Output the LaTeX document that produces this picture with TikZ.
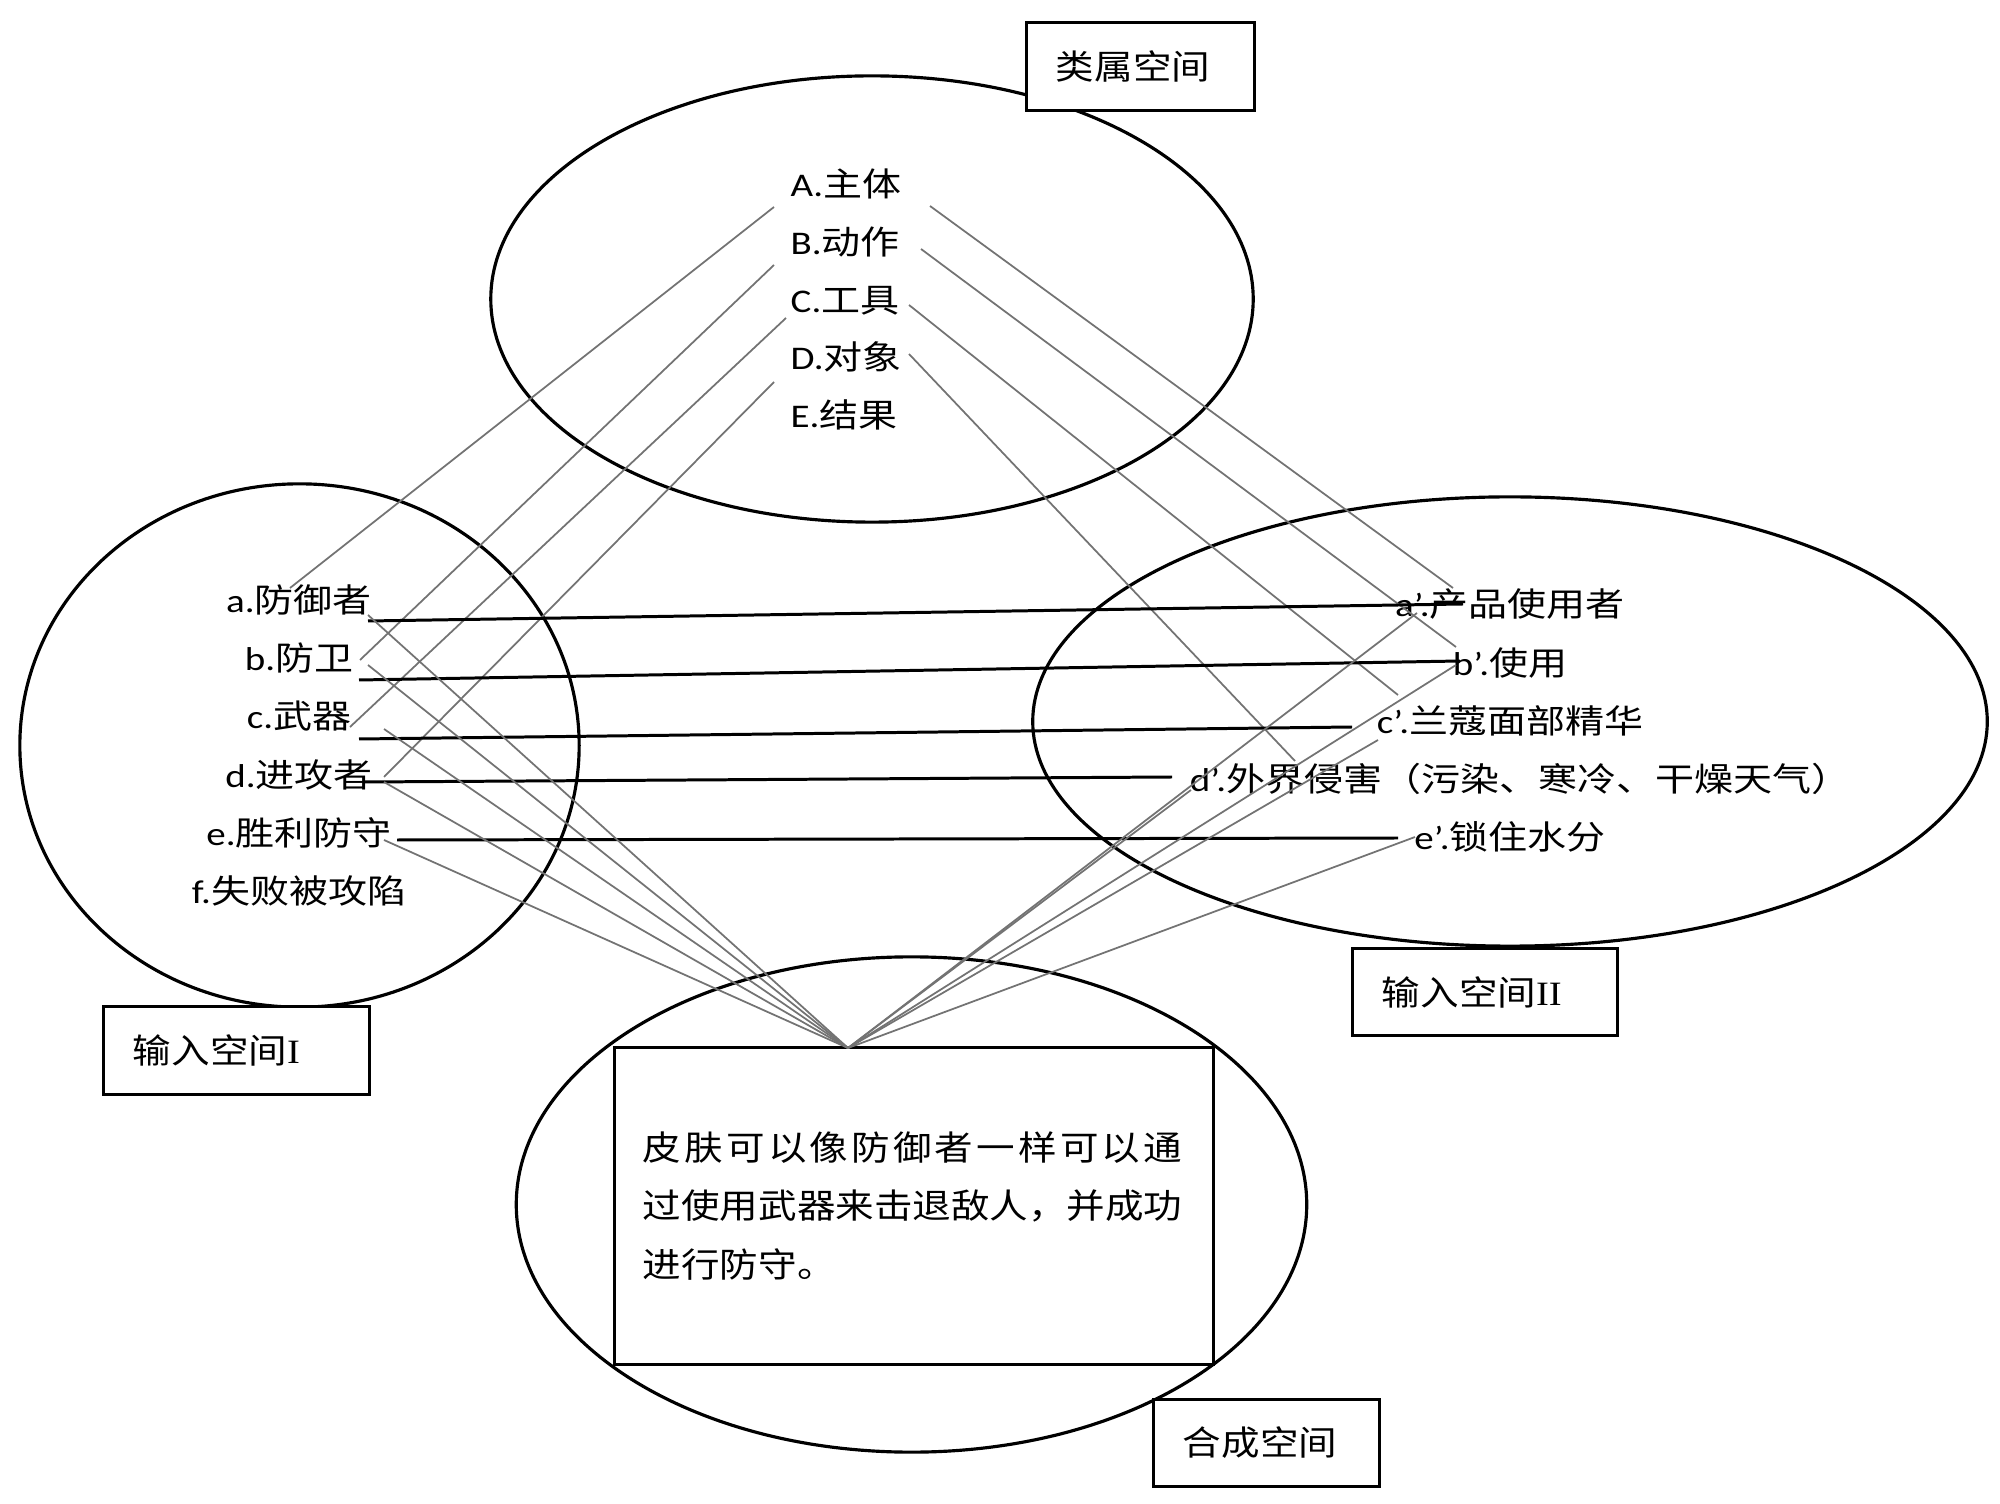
\documentclass[tikz,border=0pt]{standalone}
\usepackage{fontspec}
\setmainfont[FakeStretch=1.18]{Carlito}
\newfontfamily\zh[FakeStretch=1.13]{Noto Sans CJK SC}
\newfontfamily\zhL[FakeStretch=1.18]{Noto Sans CJK SC}
\newfontfamily\tnr[FakeStretch=1.13]{Liberation Serif}
\usetikzlibrary{shapes.geometric}
\newcommand\lab[2]{#1{\zhL #2}}
\begin{document}
\begin{tikzpicture}[x=0.01cm,y=-0.01cm,
  ell/.style={draw, line width=0.9pt, ellipse, inner sep=0pt},
  lbl/.style={inner sep=0pt, font=\fontsize{9.4}{11}\selectfont},
  spacebox/.style={draw, line width=0.85pt, fill=white, minimum height=0.87cm,
    inner xsep=0.29cm, inner ysep=0pt, align=left, font=\zh\fontsize{9.7}{11}\selectfont},
  grayline/.style={black!55, line width=0.5pt},
  blackline/.style={black, line width=0.85pt}]
\useasboundingbox (0,0) rectangle (2000,1504);
% spaces
\node[ell, minimum width=7.62cm, minimum height=4.46cm] (gen) at (872,299) {};
\node[ell, minimum width=5.59cm, minimum height=5.23cm] (in1) at (299.5,745.5) {};
\node[ell, minimum width=9.54cm, minimum height=4.49cm] (in2) at (1510,721.5) {};
\node[ell, minimum width=7.90cm, minimum height=4.95cm] (bl) at (911.5,1204.5) {};
% blend box
\node[draw, line width=0.85pt, fill=white, minimum width=5.98cm, minimum height=3.16cm,
  text width=5.42cm, inner xsep=0.28cm, inner ysep=0pt, align=left,
  font=\zh\fontsize{9.7}{16.67}\selectfont] (blendbox) at (914,1206)
  {\makebox[5.39cm][s]{皮\hfill 肤\hfill 可\hfill 以\hfill 像\hfill 防\hfill 御\hfill 者\hfill 一\hfill 样\hfill 可\hfill 以\hfill 通}\\过使用武器来击退敌人，并成功\\进行防守。};
% space name boxes
\node[spacebox, minimum width=2.27cm, text width=1.69cm] (genlbl) at (1140.5,66.5) {类属空间};
\node[spacebox, minimum width=2.65cm, text width=2.07cm] (in1lbl) at (236.5,1050.5) {输入空间{\tnr I}};
\node[spacebox, minimum width=2.64cm, text width=2.06cm] (in2lbl) at (1485,992) {输入空间{\tnr II}};
\node[spacebox, minimum width=2.25cm, text width=1.67cm] (bllbl) at (1266.5,1443) {合成空间};
% generic labels
\node[lbl, anchor=base west] (A) at (790,197) {\lab{A.}{主体}};
\node[lbl, anchor=base west] (B) at (790,255) {\lab{B.}{动作}};
\node[lbl, anchor=base west] (C) at (790,313) {\lab{C.}{工具}};
\node[lbl, anchor=base west] (D) at (790,370) {\lab{D.}{对象}};
\node[lbl, anchor=base west] (E) at (790,428) {\lab{E.}{结果}};
% input I labels
\node[lbl, anchor=base] (a) at (299,613) {\lab{a.}{防御者}};
\node[lbl, anchor=base] (b) at (299,671) {\lab{b.}{防卫}};
\node[lbl, anchor=base] (c) at (299,729) {\lab{c.}{武器}};
\node[lbl, anchor=base] (d) at (299,788) {\lab{d.}{进攻者}};
\node[lbl, anchor=base] (e) at (299,846) {\lab{e.}{胜利防守}};
\node[lbl, anchor=base] (f) at (299,904) {\lab{f.}{失败被攻陷}};
% input II labels
\node[lbl, anchor=base] (a2) at (1510,617) {\lab{a’.}{产品使用者}};
\node[lbl, anchor=base] (b2) at (1510,676) {\lab{b’.}{使用}};
\node[lbl, anchor=base] (c2) at (1510,734) {\lab{c’.}{兰蔻面部精华}};
\node[lbl, anchor=base] (d2) at (1520,792) {\lab{d’.}{外界侵害（污染、寒冷、干燥天气）}};
\node[lbl, anchor=base] (e2) at (1510,850) {\lab{e’.}{锁住水分}};
% connector ends
\coordinate (gAl) at (774,207); \coordinate (gBl) at (774,265);
\coordinate (gCl) at (786,318); \coordinate (gDl) at (774,382);
\coordinate (gAr) at (930,206); \coordinate (gBr) at (921,249);
\coordinate (gCr) at (909,305); \coordinate (gDr) at (909,354);
\coordinate (aU) at (290,588); \coordinate (bU) at (360,660);
\coordinate (cU) at (350,727); \coordinate (dU) at (384,777);
\coordinate (a2U) at (1453,588); \coordinate (b2U) at (1456,647);
\coordinate (c2U) at (1398,695); \coordinate (d2U) at (1295,761);
\coordinate (aL) at (368,621); \coordinate (bL) at (359,680);
\coordinate (cL) at (359,739); \coordinate (dL) at (364,782);
\coordinate (eL) at (397,840);
\coordinate (a2L) at (1463,604); \coordinate (b2L) at (1460,661);
\coordinate (c2L) at (1352,727); \coordinate (d2L) at (1172,777);
\coordinate (e2L) at (1398,838);
\coordinate (aB) at (368,615); \coordinate (bB) at (368,665);
\coordinate (cB) at (384,729); \coordinate (dB) at (384,782);
\coordinate (eB) at (384,840);
\coordinate (a2B) at (1417,613); \coordinate (b2B) at (1456,665);
\coordinate (c2B) at (1378,740); \coordinate (d2B) at (1191,790);
\coordinate (e2B) at (1415,837);
\coordinate (bp) at (848,1048);
% generic -> input I
\draw[grayline] (gAl) -- (aU);
\draw[grayline] (gBl) -- (bU);
\draw[grayline] (gCl) -- (cU);
\draw[grayline] (gDl) -- (dU);
% generic -> input II
\draw[grayline] (gAr) -- (a2U);
\draw[grayline] (gBr) -- (b2U);
\draw[grayline] (gCr) -- (c2U);
\draw[grayline] (gDr) -- (d2U);
% cross-space mapping
\draw[blackline] (aL) -- (a2L);
\draw[blackline] (bL) -- (b2L);
\draw[blackline] (cL) -- (c2L);
\draw[blackline] (dL) -- (d2L);
\draw[blackline] (eL) -- (e2L);
% projection to blend
\foreach \p in {aB,bB,cB,dB,eB,a2B,b2B,c2B,d2B,e2B}
  \draw[grayline] (\p) -- (bp);
\end{tikzpicture}
\end{document}
